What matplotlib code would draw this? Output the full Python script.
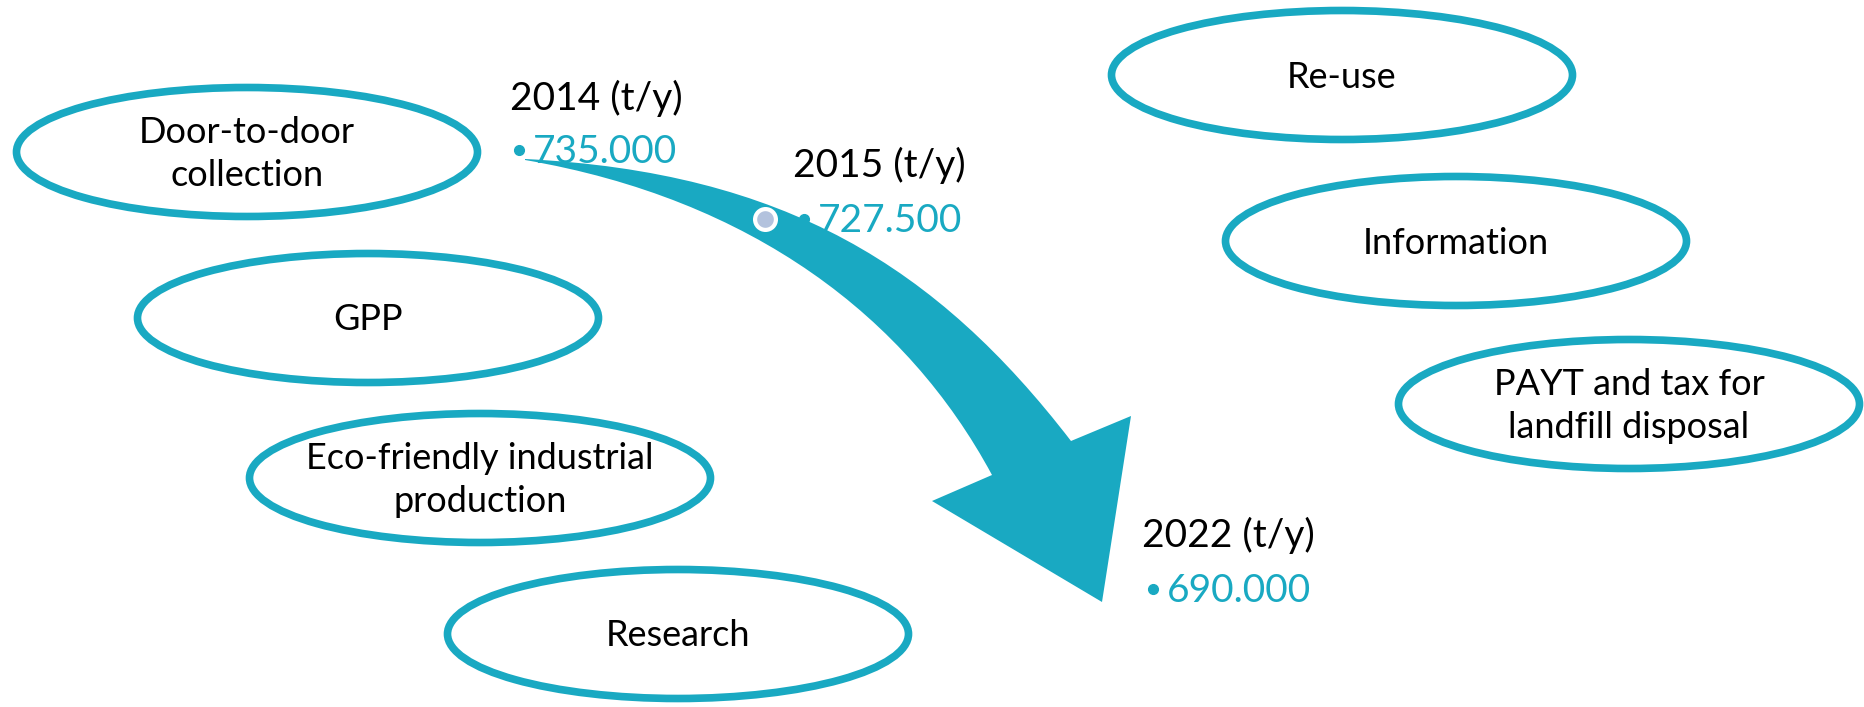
import matplotlib
matplotlib.use('Agg')
import matplotlib.pyplot as plt
from matplotlib.patches import Ellipse, PathPatch
from matplotlib.path import Path

plt.rcParams['font.family'] = ['Lato', 'DejaVu Sans']

TEAL = '#19a9c2'

# measures, ellipses (pixel coords of the picture, y grows downwards)
measures = ['Door-to-door\ncollection', 'GPP', 'Eco-friendly industrial\nproduction',
            'Research', 'Re-use', 'Information', 'PAYT and tax for\nlandfill disposal']
centerX = [247, 368, 480, 678, 1342, 1456, 1629]
centerY = [152, 318, 478, 634, 75, 241, 404]

# yearly amounts
years = ['2014 (t/y)', '2015 (t/y)', '2022 (t/y)']
amounts = ['735.000', '727.500', '690.000']
labelX = [510, 793, 1142]
labelY = [110, 177, 547]
amountX = [533, 818, 1167]
amountY = [163, 232, 602]

# arrow outline
topEdge = [(525, 159), (785, 172), (937, 267), (1071, 441)]
head = [(1131, 416), (1102, 602), (932, 501), (992, 475)]
bottomEdge = [(992, 475), (907, 317), (752, 199), (525, 160)]

fig = plt.figure(figsize=(18.64, 7.07), dpi=100)
ax = fig.add_axes([0, 0, 1, 1])
ax.set_xlim(0, 1864)
ax.set_ylim(707, 0)
ax.axis('off')

for name, cx, cy in zip(measures, centerX, centerY):
	ax.add_patch(Ellipse((cx, cy), 461, 129, fill=False, ec=TEAL, lw=5.5))
	ax.text(cx, cy + 2, name, ha='center', va='center', fontsize=26, color='black',
			linespacing=1.38, multialignment='center')

for i in range(len(years)):
	ax.text(labelX[i], labelY[i], years[i], ha='left', va='baseline', fontsize=28, color='black', zorder=1)
	ax.text(amountX[i], amountY[i], amounts[i], ha='left', va='baseline', fontsize=28, color=TEAL, zorder=1)
	ax.plot(amountX[i] - 14, amountY[i] - 13, 'o', ms=7, color=TEAL, zorder=4)

# curved arrow
verts = topEdge + head + bottomEdge[1:] + [topEdge[0]]
codes = [Path.MOVETO, Path.CURVE4, Path.CURVE4, Path.CURVE4,
		 Path.LINETO, Path.LINETO, Path.LINETO, Path.LINETO,
		 Path.CURVE4, Path.CURVE4, Path.CURVE4, Path.CLOSEPOLY]
ax.add_patch(PathPatch(Path(verts, codes), fc=TEAL, ec='none', zorder=2))

# small marker on the arrow
ax.plot(765, 219, 'o', ms=15, mfc='#b3c2dd', mec='white', mew=3, zorder=3)

fig.savefig('out.png', dpi=100)
